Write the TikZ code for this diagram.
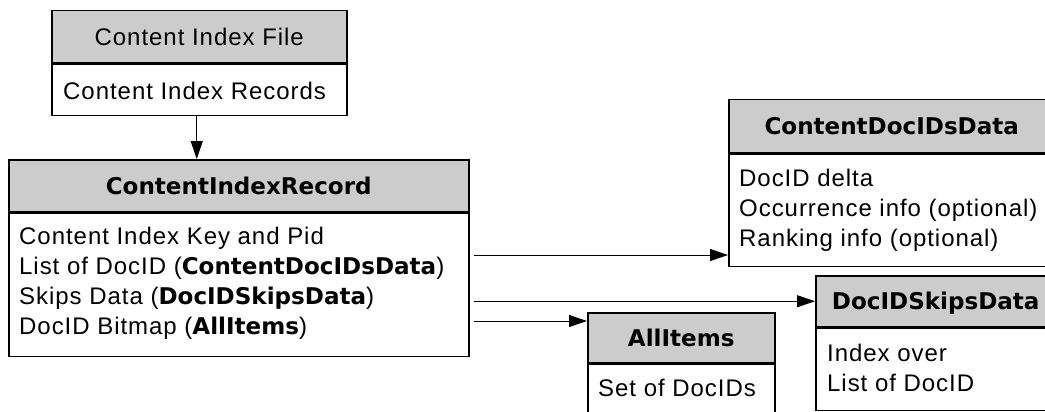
\documentclass[tikz,border=0pt]{standalone}
\usepackage{fontspec}
\setmainfont{Liberation Sans}[LetterSpace=4]
\newfontfamily\vbfont{DejaVu Sans}[Scale=0.96]
\usetikzlibrary{arrows.meta,positioning}
\definecolor{headfill}{HTML}{CCCCCC}
\newcommand{\vb}[1]{{\vbfont\bfseries #1}}
\newcommand{\rowstrut}{\rule{0pt}{20pt}}
\tikzset{
  font=\fontsize{24}{30}\selectfont
}

\begin{document}
\begin{tikzpicture}[x=1pt,y=-1pt,
  head/.style={rectangle,draw,line width=1.5pt,fill=headfill,anchor=north west,inner sep=0pt,text height=17pt,text depth=0pt},
  body/.style={rectangle,draw,line width=1.5pt,anchor=north west,inner sep=0pt},
  rows/.style={anchor=north west,inner sep=0pt,align=left},
  link/.style={-{Triangle[length=18pt,width=12pt]},line width=1pt}]
\useasboundingbox (0,0) rectangle (1045,412);
\clip (0,0) rectangle (1045,412);
% Content Index File
\node[head,minimum width=295,minimum height=52] (fileH) at (51,10) {Content Index File};
\node[body,minimum width=295,minimum height=51] (fileB) at (fileH.south west) {};
\node[rows] (fileRows) at ([shift={(12,16)}]fileB.north west) {\rowstrut Content Index Records};
% ContentIndexRecord
\node[head,minimum width=460,minimum height=52] (recH) at (8,159) {\vb{ContentIndexRecord}};
\node[body,minimum width=460,minimum height=143] (recB) at (recH.south west) {};
\node[rows] (recRows) at ([shift={(11,12)}]recB.north west) {\rowstrut Content Index Key and Pid\\
  List of DocID (\vb{ContentDocIDsData})\\
  Skips Data (\vb{DocIDSkipsData})\\
  DocID Bitmap (\vb{AllItems})};
% ContentDocIDsData
\node[head,minimum width=326,minimum height=53] (docsH) at (728,99) {\vb{ContentDocIDsData}};
\node[body,minimum width=326,minimum height=112] (docsB) at (docsH.south west) {};
\node[rows] (docsRows) at ([shift={(11,13)}]docsB.north west) {\rowstrut DocID delta\\
  Occurrence info (optional)\\
  Ranking info (optional)};
% DocIDSkipsData
\node[head,minimum width=240,minimum height=51] (skipsH) at (815,275) {\vb{DocIDSkipsData}};
\node[body,minimum width=240,minimum height=82] (skipsB) at (skipsH.south west) {};
\node[rows] (skipsRows) at ([shift={(12,14)}]skipsB.north west) {\rowstrut Index over\\
  List of DocID};
% AllItems
\node[head,minimum width=187,minimum height=50] (allH) at (587,312) {\vb{AllItems}};
\node[body,minimum width=187,minimum height=60] (allB) at (allH.south west) {};
\node[rows] (allRows) at ([shift={(11,13)}]allB.north west) {\rowstrut Set of DocIDs};
% links
\coordinate (recOut) at ([xshift=4pt]recB.east);
\coordinate (docsIn) at ([yshift=12pt]docsB.south west);
\coordinate (allIn) at ([yshift=-9pt]allH.north west);
\draw[link] ([xshift=-2.5pt]fileB.south) -- ([xshift=-2.5pt]fileB.south |- recH.north);
\draw[link] (recOut |- docsIn) -- (docsIn);
\draw[link] (recOut |- skipsH.west) -- (skipsH.west);
\draw[link] (recOut |- allIn) -- (allIn);
\end{tikzpicture}
\end{document}
